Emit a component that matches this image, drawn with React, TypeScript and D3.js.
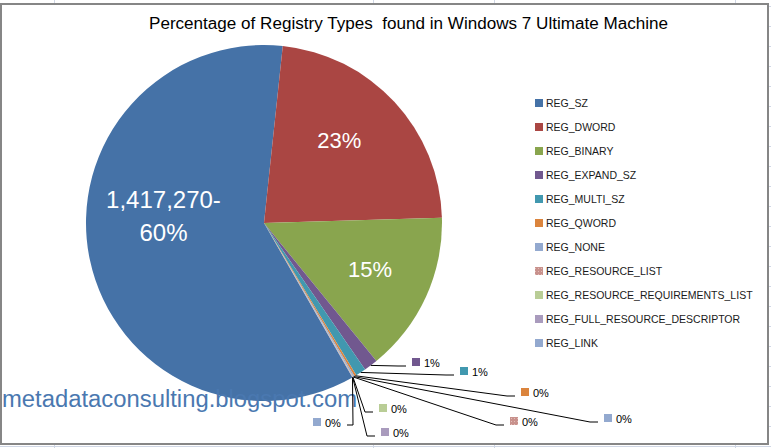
import React from 'react';
import * as d3 from 'd3';

// ---- data ----
const categories = [
  'REG_SZ',
  'REG_DWORD',
  'REG_BINARY',
  'REG_EXPAND_SZ',
  'REG_MULTI_SZ',
  'REG_QWORD',
  'REG_NONE',
  'REG_RESOURCE_LIST',
  'REG_RESOURCE_REQUIREMENTS_LIST',
  'REG_FULL_RESOURCE_DESCRIPTOR',
  'REG_LINK',
];
const counts = [1417270, 540000, 345000, 30000, 22000, 4500, 2500, 900, 600, 900, 50];
const titleText = 'Percentage of Registry Types  found in Windows 7 Ultimate Machine';
const watermarkText = 'metadataconsulting.blogspot.com';

// ---- styles / layout ----
const W = 771;
const H = 448;
const colors = [
  '#4572A7', '#AA4643', '#89A54E', '#71588F', '#4198AF', '#DB843D',
  '#93A9CF', 'url(#dotsPattern)', '#B9CD96', '#A99BBD', '#93A9CF',
];
const FONT = "'Liberation Sans', Arial, sans-serif";
const cx = 264;
const cy = 223;
const R = 178;
const firstSliceAngleDeg = 150.2;

// label nudges for the three inside labels (relative to centroid at 0.6R)
const insideNudge: Record<number, [number, number]> = { 0: [4, -28], 1: [-3, -10], 2: [9, 2] };
// outside label boxes (legend square top-left) for the small slices
const outsideLabelPos: Record<number, [number, number, 'right' | 'left']> = {
  3: [412, 358, 'right'],
  4: [460, 367, 'right'],
  5: [521, 388, 'right'],
  6: [604, 414, 'right'],
  7: [510, 417, 'right'],
  8: [379, 404, 'right'],
  9: [381, 428, 'right'],
  10: [313, 418, 'left'],
};
const sheetColumnEdges = [54, 373, 494, 735];

export default function App() {
  const total = d3.sum(counts);
  const pct = d3.format('.0%');
  const start = (firstSliceAngleDeg * Math.PI) / 180;
  const pie = d3
    .pie<number>()
    .sort(null)
    .value((d) => d)
    .startAngle(start)
    .endAngle(start + 2 * Math.PI);
  const arcs = pie(counts);
  const arcGen = d3.arc<d3.PieArcDatum<number>>().innerRadius(0).outerRadius(R);
  const labelArc = d3.arc<d3.PieArcDatum<number>>().innerRadius(R * 0.6).outerRadius(R * 0.6);
  const edgeArc = d3.arc<d3.PieArcDatum<number>>().innerRadius(R).outerRadius(R);

  const legendY = d3.scalePoint<string>().domain(categories).range([103, 343]);
  const rows = d3.range(6, H, 20);
  const line = d3.line();

  return (
    <svg
      width={W}
      height={H}
      style={{ position: 'absolute', left: 0, top: 0, background: '#fff' }}
    >
      <defs>
        <pattern id="dotsPattern" width="3" height="3" patternUnits="userSpaceOnUse">
          <rect width="3" height="3" fill="#C8918C" />
          <rect x="1" y="1" width="1" height="1" fill="#E2BDB9" />
        </pattern>
      </defs>
      {/* spreadsheet grid */}
      <g stroke="#D0D7E5" strokeWidth={1}>
        {sheetColumnEdges.map((x) => (
          <line key={'c' + x} x1={x + 0.5} x2={x + 0.5} y1={0} y2={H} />
        ))}
        {rows.map((y) => (
          <line key={'r' + y} x1={0} x2={W} y1={y + 0.5} y2={y + 0.5} />
        ))}
      </g>
      {/* chart area */}
      <rect x={1} y={4} width={767} height={440} fill="#fff" stroke="#868686" strokeWidth={2} />

      {/* title */}
      <text
        x={149}
        y={29}
        fontFamily={FONT}
        fontSize={16}
        fill="#000"
        textLength={519}
        lengthAdjust="spacingAndGlyphs"
        style={{ whiteSpace: 'pre' }}
      >
        {titleText}
      </text>

      {/* pie */}
      <g transform={`translate(${cx},${cy})`}>
        {arcs.map((a, i) => (
          <path key={i} d={arcGen(a) || ''} fill={colors[i]} />
        ))}
      </g>

      {/* watermark */}
      <text
        x={2}
        y={407}
        fontFamily={FONT}
        fontSize={23}
        fill="#4A78B0"
        textLength={355}
        lengthAdjust="spacingAndGlyphs"
      >
        {watermarkText}
      </text>

      {/* inside labels */}
      {arcs.map((a, i) => {
        const nudge = insideNudge[i];
        if (!nudge) return null;
        const [lx, ly] = labelArc.centroid(a);
        const x = cx + lx + nudge[0];
        const y = cy + ly + nudge[1];
        const p = pct(counts[i] / total);
        if (i === 0) {
          return (
            <text key={'in' + i} x={x} fontFamily={FONT} fontSize={24} fill="#fff" textAnchor="middle">
              <tspan x={x} y={y - 16.5 + 8}>{d3.format(',')(counts[i]) + '-'}</tspan>
              <tspan x={x} y={y + 16.5 + 8}>{p}</tspan>
            </text>
          );
        }
        return (
          <text key={'in' + i} x={x} y={y + 8} fontFamily={FONT} fontSize={22} fill="#fff" textAnchor="middle">
            {p}
          </text>
        );
      })}

      {/* outside labels with leader lines */}
      {arcs.map((a, i) => {
        const pos = outsideLabelPos[i];
        if (!pos) return null;
        const [sx, sy, side] = pos;
        const [ex0, ey0] = edgeArc.centroid(a);
        const px = cx + ex0;
        const py = cy + ey0;
        const p = pct(counts[i] / total);
        let pts: [number, number][];
        if (side === 'right') {
          const end: [number, number] = [sx - 6, sy + 8];
          pts = [[px, py], [end[0] - 8, end[1]], end];
        } else {
          const end: [number, number] = [sx + 34, sy + 7];
          pts = [end, [end[0] + 6, end[1]], [px, py]];
        }
        return (
          <g key={'out' + i}>
            <path d={line(pts) || ''} fill="none" stroke="#000" strokeWidth={1} />
            <rect x={sx} y={sy} width={8} height={8} fill={colors[i]} />
            <text x={sx + 12} y={sy + 9} fontFamily={FONT} fontSize={11} fill="#000">
              {p}
            </text>
          </g>
        );
      })}

      {/* legend */}
      {categories.map((c, i) => {
        const y = legendY(c) || 0;
        return (
          <g key={'lg' + c}>
            <rect x={535} y={y - 4} width={8} height={8} fill={colors[i]} />
            <text x={546} y={y + 4} fontFamily={FONT} fontSize={10.5} fill="#1a1a1a">
              {c}
            </text>
          </g>
        );
      })}
    </svg>
  );
}
